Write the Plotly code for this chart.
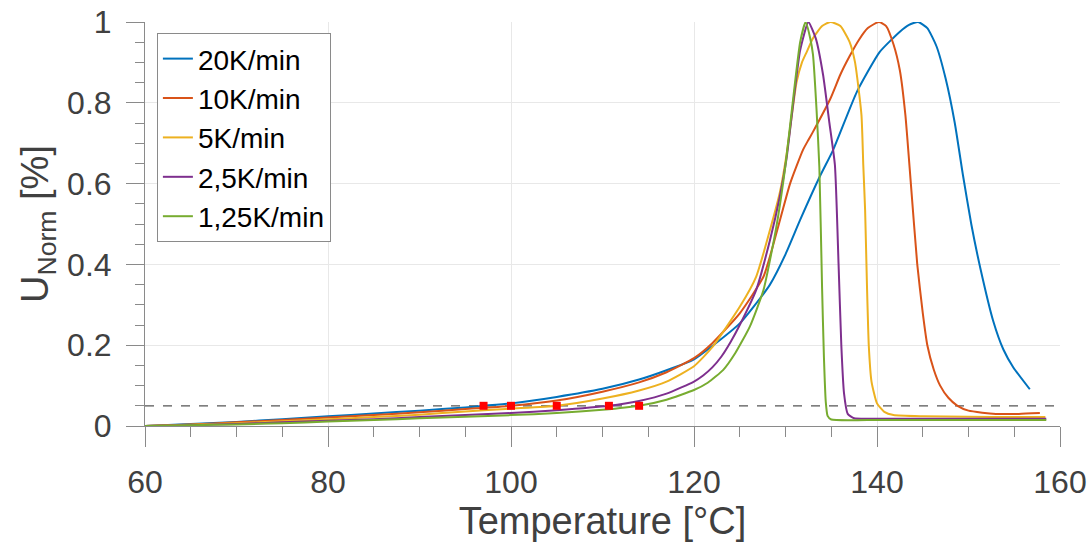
import plotly.graph_objects as go

# ---- data ----
names = ["20K/min", "10K/min", "5K/min", "2,5K/min", "1,25K/min"]
colors = ["#0072BD", "#D95319", "#EDB120", "#7E2F8E", "#77AC30"]

t_20 = [60, 65, 70, 75, 80, 85, 90, 95, 97, 100, 105, 110, 114, 117, 120, 122, 125, 126.5, 128.3,
        130, 131.6, 133.8, 135.2, 137.8, 140.3, 142.5, 143.5, 144.5, 145.5, 146.5, 147.5, 148.5,
        149.4, 150.3, 151.3, 152.7, 153.8, 154.9, 156.7]
u_20 = [0, 0.005, 0.01, 0.017, 0.024, 0.031, 0.038, 0.046, 0.05, 0.056, 0.072, 0.092, 0.115, 0.138,
        0.165, 0.198, 0.254, 0.295, 0.35, 0.425, 0.51, 0.62, 0.683, 0.827, 0.926, 0.976, 0.993,
        1.0, 0.985, 0.94, 0.86, 0.75, 0.62, 0.50, 0.39, 0.26, 0.19, 0.145, 0.091]

t_10 = [60, 65, 70, 75, 80, 85, 90, 95, 100, 105, 110, 114, 117, 120, 122, 125, 127.6, 129.4,
        130.5, 131.9, 132.5, 133.0, 134.9, 136.0, 137.0, 138.0, 139.0, 140.2, 141.0, 141.8, 142.5,
        143.1, 143.7, 144.4, 145.0, 145.5, 146.2, 146.9, 147.8, 148.8, 150, 151.5, 153, 155.5,
        157.8]
u_10 = [0, 0.004, 0.009, 0.015, 0.021, 0.027, 0.034, 0.042, 0.05, 0.063, 0.085, 0.108, 0.133, 0.168,
        0.205, 0.279, 0.37, 0.51, 0.6, 0.683, 0.708, 0.728, 0.81, 0.87, 0.915, 0.955, 0.985, 1.0,
        0.99, 0.945, 0.88, 0.77, 0.60, 0.40, 0.28, 0.20, 0.14, 0.10, 0.07, 0.05, 0.038, 0.033,
        0.030, 0.030, 0.032]

t_5 = [60, 65, 70, 75, 80, 85, 90, 95, 100, 105, 110, 114, 117, 120, 122, 125, 126.8, 128.7,
       129.4, 130.1, 130.7, 131.2, 131.8, 132.3, 133.0, 134.0, 134.9, 136.0, 137.0, 137.6, 138.3,
       138.5, 138.7, 138.9, 139.1, 139.4, 140.0, 140.8, 141.8, 145, 150, 155, 158.4]
u_5 = [0, 0.003, 0.007, 0.012, 0.017, 0.022, 0.028, 0.036, 0.043, 0.05, 0.068, 0.088, 0.11, 0.148,
       0.195, 0.295, 0.37, 0.518, 0.58, 0.67, 0.77, 0.85, 0.90, 0.925, 0.96, 0.99, 1.0, 0.99,
       0.951, 0.90, 0.77, 0.646, 0.535, 0.35, 0.2, 0.11, 0.056, 0.035, 0.027, 0.024, 0.023, 0.022,
       0.022]

t_25 = [60, 65, 70, 75, 80, 85, 90, 95, 100, 105, 110.7, 114, 117, 120, 121, 122, 123, 124, 125,
        126.8, 128.3, 129.4, 130.1, 130.9, 131.6, 132.5, 133.3, 134.1, 134.8, 135.4, 135.8, 136.1,
        136.4, 136.8, 137.5, 140, 145, 150, 155, 158.5]
u_25 = [0, 0.002, 0.005, 0.009, 0.013, 0.017, 0.022, 0.027, 0.032, 0.039, 0.05, 0.062, 0.08, 0.11,
        0.125, 0.145, 0.172, 0.208, 0.25, 0.337, 0.46, 0.57, 0.66, 0.81, 0.93, 1.0, 0.96, 0.87,
        0.75, 0.646, 0.40, 0.2, 0.08, 0.03, 0.019, 0.018, 0.018, 0.018, 0.018, 0.018]

t_125 = [60, 65, 70, 75, 80, 85, 90, 95, 100, 105, 110, 114, 117, 120, 121.5, 123.2, 124.5, 126.1,
         127.6, 129, 130, 130.9, 131.6, 132.2, 132.7, 133.0, 133.4, 133.7, 134.0, 134.2, 134.4,
         134.6, 135, 140, 145, 150, 155, 158.5]
u_125 = [0, 0.002, 0.004, 0.007, 0.011, 0.015, 0.019, 0.023, 0.027, 0.032, 0.04, 0.05, 0.065, 0.089,
         0.107, 0.139, 0.18, 0.246, 0.337, 0.493, 0.646, 0.823, 0.95, 1.0, 0.96, 0.92, 0.78, 0.64,
         0.34, 0.17, 0.06, 0.025, 0.016, 0.015, 0.015, 0.015, 0.015, 0.015]

onset_t = [97, 100, 105, 110.7, 114]
onset_u = [0.05, 0.05, 0.05, 0.05, 0.05]
threshold = 0.05
x_range = [60, 160]
y_range = [0, 1]

series_t = [t_20, t_10, t_5, t_25, t_125]
series_u = [u_20, u_10, u_5, u_25, u_125]

fig = go.Figure()

fig.add_trace(go.Scatter(x=x_range, y=[threshold, threshold], mode="lines",
                         line=dict(color="#555555", width=1.3, dash="dash"),
                         showlegend=False, hoverinfo="skip"))

for name, col, t, u in zip(names, colors, series_t, series_u):
    fig.add_trace(go.Scatter(x=t, y=u, mode="lines", name=name,
                             line=dict(color=col, width=2, shape="spline", smoothing=0.5)))

fig.add_trace(go.Scatter(x=onset_t, y=onset_u, mode="markers",
                         marker=dict(symbol="square", color="#FF0000", size=8),
                         showlegend=False))

font_family = "Liberation Sans, Arial, sans-serif"
axis_col = "#404040"

fig.update_layout(
    width=1091, height=547,
    margin=dict(l=145, r=31, t=22, b=121, autoexpand=False),
    paper_bgcolor="white", plot_bgcolor="white",
    font=dict(family=font_family, color=axis_col),
    legend=dict(x=0.013, y=0.973, xanchor="left", yanchor="top",
                bordercolor="#8a8a8a", borderwidth=1, bgcolor="white",
                font=dict(size=28, color="#000000", family=font_family),
                itemwidth=30, tracegroupgap=0),
)

fig.update_xaxes(
    range=x_range, dtick=20, tick0=60, automargin=False,
    showgrid=True, gridcolor="#e8e8e8", gridwidth=1,
    showline=True, linecolor="#8a8a8a", linewidth=1,
    ticks="outside", ticklen=20, tickcolor="#8a8a8a",
    minor=dict(dtick=5, ticks="outside", ticklen=10, tickcolor="#8a8a8a", showgrid=False),
    tickfont=dict(size=32, color=axis_col),
    ticklabelstandoff=8,
    title=dict(text="Temperature [°C]", font=dict(size=38, color=axis_col), standoff=6),
    zeroline=False,
)
fig.update_yaxes(
    range=y_range, dtick=0.2, tick0=0, automargin=False,
    showgrid=True, gridcolor="#e8e8e8", gridwidth=1,
    showline=True, linecolor="#8a8a8a", linewidth=1,
    ticks="outside", ticklen=18, tickcolor="#8a8a8a",
    minor=dict(dtick=0.05, ticks="outside", ticklen=9, tickcolor="#8a8a8a", showgrid=False),
    tickfont=dict(size=32, color=axis_col),
    ticklabelstandoff=8,
    title=dict(text="U<sub>Norm</sub> [%]", font=dict(size=38, color=axis_col), standoff=6),
    zeroline=False,
)

fig.write_html("out.html")
